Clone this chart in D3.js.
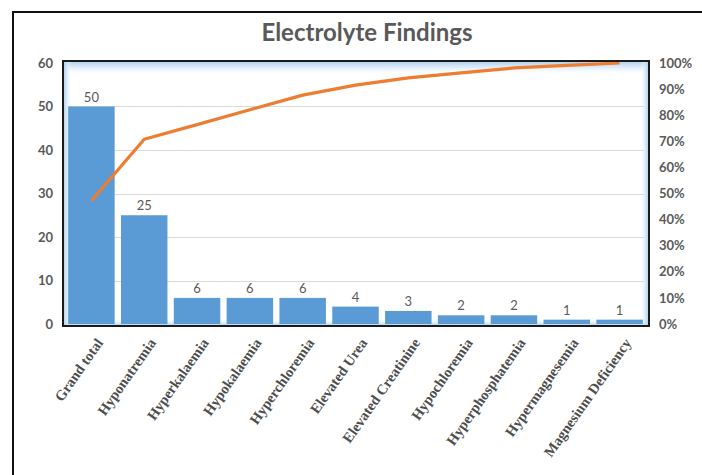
<!DOCTYPE html>
<html>
<head>
<meta charset="utf-8">
<script src="https://cdn.jsdelivr.net/npm/d3@7"></script>
<style>
  html, body { margin: 0; padding: 0; background: #fff; }
  svg { display: block; }
</style>
</head>
<body>
<svg id="chart" width="702" height="475"></svg>
<script>
// Pareto of electrolyte findings: counts (bars) and cumulative share (line)
const categories = [
  "Grand total", "Hyponatremia", "Hyperkalaemia", "Hypokalaemia", "Hyperchloremia",
  "Elevated Urea", "Elevated Creatinine", "Hypochloremia", "Hyperphosphatemia",
  "Hypermagnesemia", "Magnesium Deficiency"
];
const counts = [50, 25, 6, 6, 6, 4, 3, 2, 2, 1, 1];
const cumulativePct = [47.2, 70.8, 76.4, 82.1, 87.7, 91.5, 94.3, 96.2, 98.1, 99.1, 100];
const leftTicks = [0, 10, 20, 30, 40, 50, 60];
const rightTicks = [0, 10, 20, 30, 40, 50, 60, 70, 80, 90, 100];

const svg = d3.select("#chart");

// outer frame (left and top edges visible)
svg.append("path")
  .attr("d", "M13,475 V12 H702")
  .attr("fill", "none").attr("stroke", "#111").attr("stroke-width", 2);

// title
svg.append("text")
  .attr("x", 367).attr("y", 41)
  .attr("text-anchor", "middle")
  .attr("font-family", "Lato, 'Open Sans', sans-serif")
  .attr("font-weight", "bold").attr("font-size", 24)
  .attr("fill", "#595959")
  .text("Electrolyte Findings");

const plot = { x0: 63, x1: 649, y0: 61, y1: 326 };

const x = d3.scaleBand().domain(categories).range([65, 646]).paddingInner(0.12).paddingOuter(0.06);
const y = d3.scaleLinear().domain([0, 60]).range([324, 63]);
const yPct = d3.scaleLinear().domain([0, 100]).range([324, 63]);

// plot area background with a soft inner glow
const defs = svg.append("defs");
function grad(id, x1, y1, x2, y2) {
  const g = defs.append("linearGradient").attr("id", id)
    .attr("x1", x1).attr("y1", y1).attr("x2", x2).attr("y2", y2);
  g.append("stop").attr("offset", "0%").attr("stop-color", "#9cc8f0").attr("stop-opacity", 0.9);
  g.append("stop").attr("offset", "45%").attr("stop-color", "#cfe4f7").attr("stop-opacity", 0.7);
  g.append("stop").attr("offset", "100%").attr("stop-color", "#ffffff").attr("stop-opacity", 0);
}
grad("gTop", 0, 0, 0, 1);
grad("gBottom", 0, 1, 0, 0);
grad("gLeft", 0, 0, 1, 0);
grad("gRight", 1, 0, 0, 0);

svg.append("rect")
  .attr("x", plot.x0).attr("y", plot.y0)
  .attr("width", plot.x1 - plot.x0).attr("height", plot.y1 - plot.y0)
  .attr("fill", "#fff");

const glow = svg.append("g");
glow.append("rect").attr("x", plot.x0).attr("y", plot.y0).attr("width", plot.x1 - plot.x0).attr("height", 14).attr("fill", "url(#gTop)");
glow.append("rect").attr("x", plot.x0).attr("y", plot.y1 - 7).attr("width", plot.x1 - plot.x0).attr("height", 7).attr("fill", "url(#gBottom)");
glow.append("rect").attr("x", plot.x0).attr("y", plot.y0).attr("width", 9).attr("height", plot.y1 - plot.y0).attr("fill", "url(#gLeft)");
glow.append("rect").attr("x", plot.x1 - 9).attr("y", plot.y0).attr("width", 9).attr("height", plot.y1 - plot.y0).attr("fill", "url(#gRight)");

// gridlines
svg.append("g")
  .selectAll("line")
  .data(leftTicks.filter(d => d > 0 && d < 60))
  .join("line")
  .attr("x1", plot.x0 + 5).attr("x2", plot.x1 - 5)
  .attr("y1", d => Math.round(y(d)) + 0.5).attr("y2", d => Math.round(y(d)) + 0.5)
  .attr("stroke", "#d9d9d9").attr("stroke-width", 1);

// bars
svg.append("g")
  .selectAll("rect")
  .data(categories)
  .join("rect")
  .attr("x", d => x(d))
  .attr("width", x.bandwidth())
  .attr("y", (d, i) => y(counts[i]))
  .attr("height", (d, i) => y(0) - y(counts[i]))
  .attr("fill", "#5b9bd5");

// value labels
svg.append("g")
  .selectAll("text")
  .data(categories)
  .join("text")
  .attr("x", d => x(d) + x.bandwidth() / 2)
  .attr("y", (d, i) => y(counts[i]) - 5)
  .attr("text-anchor", "middle")
  .attr("font-family", "Lato, 'Open Sans', sans-serif")
  .attr("font-size", 13)
  .attr("fill", "#595959")
  .text((d, i) => counts[i]);

// cumulative line
const line = d3.line()
  .x((d, i) => x(categories[i]) + x.bandwidth() / 2)
  .y(d => yPct(d));
svg.append("path")
  .datum(cumulativePct)
  .attr("d", line)
  .attr("fill", "none")
  .attr("stroke", "#ed7d31")
  .attr("stroke-width", 3.2)
  .attr("stroke-linejoin", "round");

// plot border
svg.append("rect")
  .attr("x", plot.x0).attr("y", plot.y0)
  .attr("width", plot.x1 - plot.x0).attr("height", plot.y1 - plot.y0)
  .attr("fill", "none").attr("stroke", "#1a1a1a").attr("stroke-width", 2);

// left axis
const leftAxis = svg.append("g")
  .attr("transform", "translate(53,0)")
  .call(d3.axisLeft(y).tickValues(leftTicks).tickSize(0).tickPadding(0));
leftAxis.select(".domain").remove();
leftAxis.selectAll("text")
  .attr("font-family", "Lato, 'Open Sans', sans-serif")
  .attr("font-weight", "bold").attr("font-size", 13)
  .attr("fill", "#595959");

// right axis
const rightAxis = svg.append("g")
  .attr("transform", "translate(659,0)")
  .call(d3.axisRight(yPct).tickValues(rightTicks).tickSize(0).tickPadding(0).tickFormat(d => d + "%"));
rightAxis.select(".domain").remove();
rightAxis.selectAll("text")
  .attr("font-family", "Lato, 'Open Sans', sans-serif")
  .attr("font-weight", "bold").attr("font-size", 13)
  .attr("fill", "#595959");

// category labels, rotated
svg.append("g")
  .selectAll("text")
  .data(categories)
  .join("text")
  .attr("transform", d => `translate(${x(d) + x.bandwidth() / 2 + 4},${337}) rotate(-55)`)
  .attr("text-anchor", "end")
  .attr("dy", "0.7em")
  .attr("font-family", "'Liberation Serif', 'DejaVu Serif', serif")
  .attr("font-weight", "bold")
  .attr("font-size", 14.5)
  .attr("fill", "#4d4d4d")
  .text(d => d);
</script>
</body>
</html>
